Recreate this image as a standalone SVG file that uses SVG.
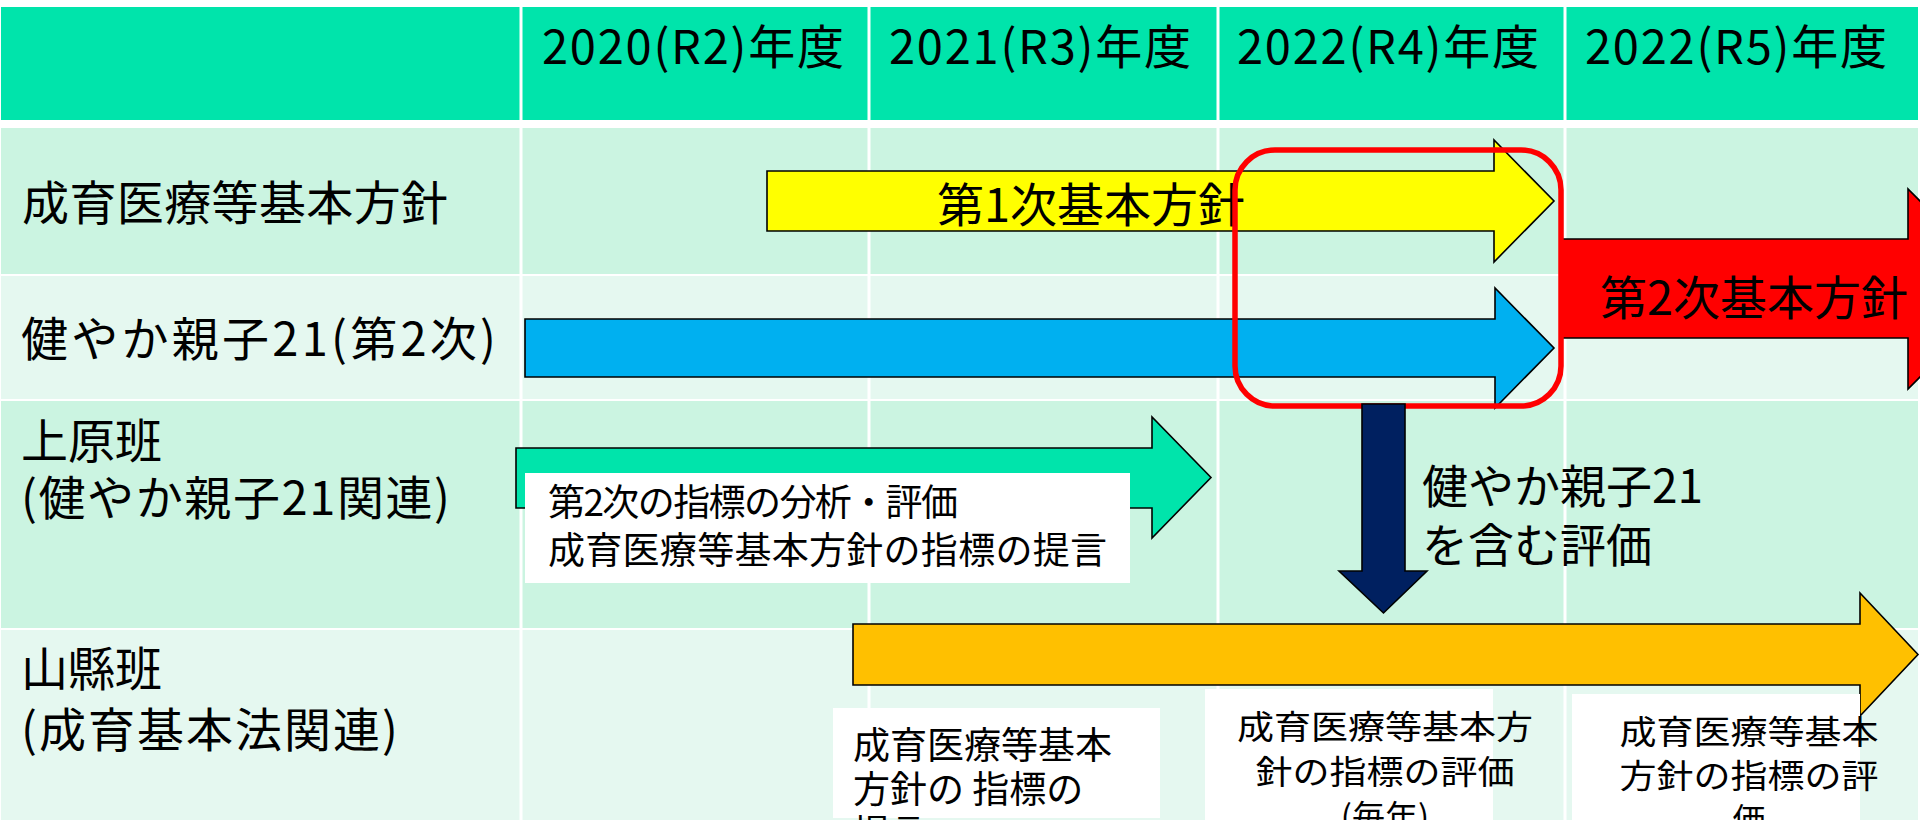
<svg xmlns="http://www.w3.org/2000/svg" width="1920" height="820" viewBox="0 0 1920 820">
<style>
  .t { font-family: "Noto Sans CJK JP", "Noto Sans", sans-serif; fill: #000; }
  .h { font-size: 47px; }
  .lb { font-size: 47px; }
  .sm { font-size: 37px; }
  .sq { font-size: 33px; }
  .ar { stroke: #000; stroke-width: 1.6; stroke-linejoin: miter; }
  .grid { fill: #FFFFFF; }
  .wbox { fill: #FFFFFF; }
</style>
<rect x="0" y="0" width="1920" height="820" fill="#FFFFFF"/>
<g id="table">
  <rect x="1" y="7" width="1917" height="113" fill="#00E4AB"/>
  <rect x="1" y="128" width="1917" height="146" fill="#CBF4E1"/>
  <rect x="1" y="276" width="1917" height="123" fill="#E5F8F0"/>
  <rect x="1" y="401" width="1917" height="227" fill="#CBF4E1"/>
  <rect x="1" y="630" width="1917" height="190" fill="#E5F8F0"/>
  <rect class="grid" x="519.5" y="0" width="3" height="820"/>
  <rect class="grid" x="867.5" y="0" width="3" height="820"/>
  <rect class="grid" x="1216.5" y="0" width="3" height="820"/>
  <rect class="grid" x="1563.5" y="0" width="3" height="820"/>
</g>
<g id="header">
  <text class="t h" x="542" y="64" textLength="302">2020(R2)年度</text>
  <text class="t h" x="889" y="64" textLength="302">2021(R3)年度</text>
  <text class="t h" x="1237" y="64" textLength="302">2022(R4)年度</text>
  <text class="t h" x="1585" y="64" textLength="302">2022(R5)年度</text>
</g>
<g id="row-labels">
  <text class="t lb" x="22" y="220" textLength="426">成育医療等基本方針</text>
  <text class="t lb" x="21" y="356" textLength="475">健やか親子21(第2次)</text>
  <text class="t lb" x="21" y="458">上原班</text>
  <text class="t lb" x="21" y="515" textLength="429">(健やか親子21関連)</text>
  <text class="t lb" x="21" y="686">山縣班</text>
  <text class="t lb" x="21" y="747" textLength="377">(成育基本法関連)</text>
</g>
<g id="connectors">
  <g id="arrow-1st">
    <polygon class="ar" fill="#FFFF00" points="767,171 1494,171 1494,140 1554,201 1494,262 1494,231 767,231"/>
    <text class="t lb" x="937" y="222">第1次基本方針</text>
  </g>
  <g id="arrow-sukoyaka">
    <polygon class="ar" fill="#00B0F0" points="525,319 1495,319 1495,288 1554,348 1495,408 1495,377 525,377"/>
  </g>
  <g id="arrow-2nd">
    <polygon class="ar" fill="#FF0000" points="1562,239 1908,239 1908,189 2008,289 1908,389 1908,338 1562,338"/>
    <text class="t lb" x="1600" y="315">第2次基本方針</text>
  </g>
  <rect id="highlight" x="1235" y="150" width="326" height="256" rx="40" ry="40" fill="none" stroke="#FF0000" stroke-width="5.5"/>
  <g id="arrow-uehara">
    <polygon class="ar" fill="#00E4AB" points="516,448 1152,448 1152,417 1211,477.5 1152,538 1152,508 516,508"/>
  </g>
  <g id="arrow-down">
    <polygon class="ar" fill="#002060" points="1362,404 1405,404 1405,571 1427,571 1383.5,613 1339,571 1362,571"/>
  </g>
  <g id="arrow-yamagata">
    <polygon class="ar" fill="#FFC000" points="853,624 1860,624 1860,593 1918,654.5 1860,716 1860,685 853,685"/>
  </g>
</g>
<g id="uehara-note">
  <rect class="wbox" x="525" y="473" width="605" height="110"/>
  <text class="t sm" x="548" y="516" textLength="410">第2次の指標の分析・評価</text>
  <text class="t sm" x="548" y="564" textLength="559">成育医療等基本方針の指標の提言</text>
</g>
<g id="eval-label">
  <text class="t" font-size="46" x="1422" y="503">健やか親子21</text>
  <text class="t" font-size="46" x="1422" y="562">を含む評価</text>
</g>
<g id="note-2021">
  <rect class="wbox" x="833" y="708" width="327" height="110"/>
  <text class="t sm" x="853" y="759">成育医療等基本</text>
  <text class="t sm" x="853" y="803">方針の 指標の</text>
  <text class="t sm" x="853" y="847">提言</text>
</g>
<g id="note-2022">
  <rect class="wbox" x="1205" y="689" width="288" height="131"/>
  <text class="t sq" x="1385" y="739" text-anchor="middle" textLength="296" lengthAdjust="spacingAndGlyphs">成育医療等基本方</text>
  <text class="t sq" x="1385" y="784" text-anchor="middle" textLength="259" lengthAdjust="spacingAndGlyphs">針の指標の評価</text>
  <text class="t sq" x="1385" y="829" text-anchor="middle">(毎年)</text>
</g>
<g id="note-2023">
  <rect class="wbox" x="1572" y="694" width="288" height="126"/>
  <text class="t sq" x="1749" y="744" text-anchor="middle" textLength="259" lengthAdjust="spacingAndGlyphs">成育医療等基本</text>
  <text class="t sq" x="1749" y="788" text-anchor="middle" textLength="259" lengthAdjust="spacingAndGlyphs">方針の指標の評</text>
  <text class="t sq" x="1749" y="832" text-anchor="middle">価</text>
</g>
</svg>
